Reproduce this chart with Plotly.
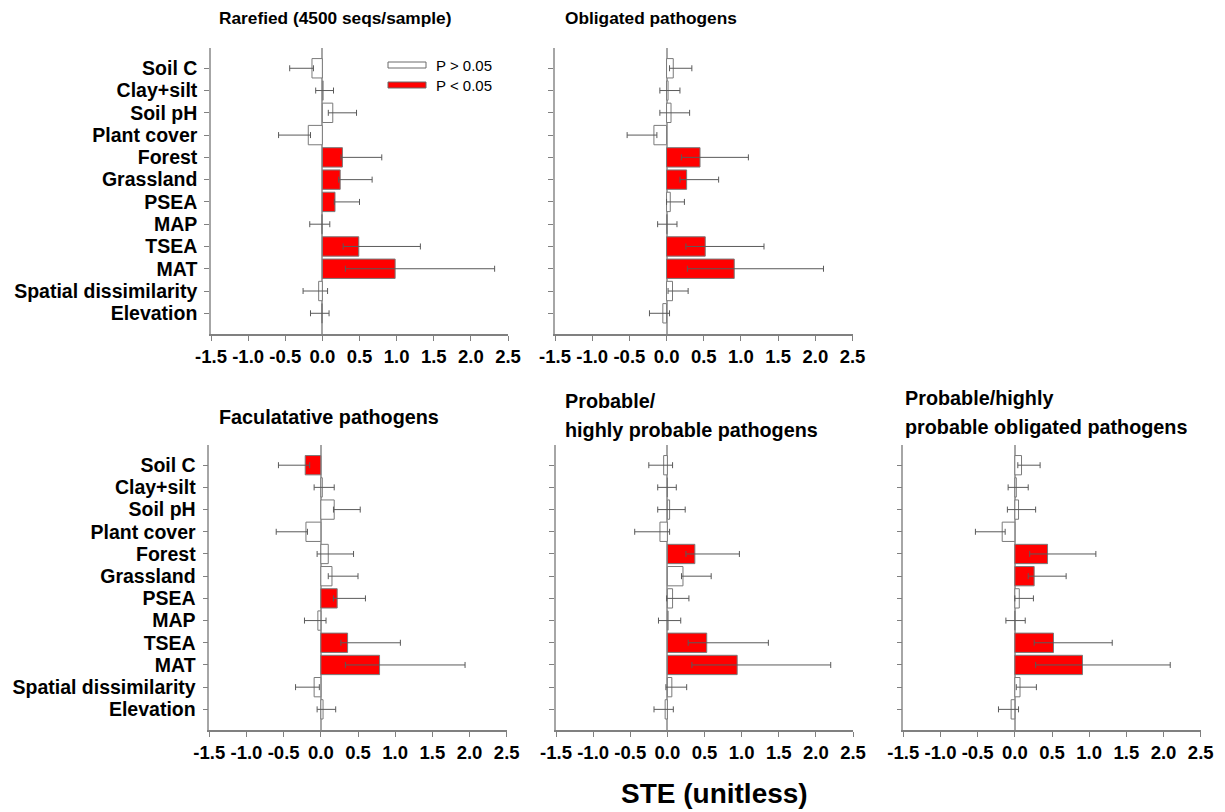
import plotly.graph_objects as go

# Predictors, top to bottom
predictors = ["Soil C", "Clay+silt", "Soil pH", "Plant cover", "Forest", "Grassland",
              "PSEA", "MAP", "TSEA", "MAT", "Spatial dissimilarity", "Elevation"]

tick_vals = [-1.5, -1.0, -0.5, 0.0, 0.5, 1.0, 1.5, 2.0, 2.5]
tick_text = ["-1.5", "-1.0", "-0.5", "0.0", "0.5", "1.0", "1.5", "2.0", "2.5"]

# Standardized total effects (STE) with lower / upper interval bounds and significance
rarefied_ste = [-0.14, 0.01, 0.14, -0.19, 0.27, 0.24, 0.17, -0.01, 0.49, 0.98, -0.05, -0.01]
rarefied_lo = [-0.44, -0.09, 0.08, -0.59, 0.25, 0.22, 0.16, -0.17, 0.28, 0.31, -0.26, -0.16]
rarefied_hi = [-0.12, 0.15, 0.46, -0.16, 0.80, 0.67, 0.50, 0.10, 1.32, 2.32, 0.07, 0.09]
rarefied_sig = [0, 0, 0, 0, 1, 1, 1, 0, 1, 1, 0, 0]

obligated_ste = [0.09, 0.02, 0.06, -0.17, 0.45, 0.27, 0.05, 0.01, 0.52, 0.91, 0.08, -0.05]
obligated_lo = [0.04, -0.09, -0.09, -0.53, 0.20, 0.18, 0.00, -0.12, 0.26, 0.28, 0.02, -0.23]
obligated_hi = [0.34, 0.18, 0.31, -0.13, 1.10, 0.70, 0.24, 0.14, 1.31, 2.11, 0.29, 0.04]
obligated_sig = [0, 0, 0, 0, 1, 1, 0, 0, 1, 1, 0, 0]

facultative_ste = [-0.21, 0.02, 0.18, -0.20, 0.10, 0.15, 0.22, -0.04, 0.36, 0.79, -0.09, 0.03]
facultative_lo = [-0.57, -0.09, 0.17, -0.60, -0.05, 0.10, 0.17, -0.22, 0.27, 0.33, -0.34, -0.05]
facultative_hi = [-0.15, 0.18, 0.53, -0.18, 0.44, 0.50, 0.60, 0.07, 1.07, 1.94, -0.02, 0.20]
facultative_sig = [1, 0, 0, 0, 0, 0, 1, 0, 1, 1, 0, 0]

probable_ste = [-0.05, 0.00, 0.03, -0.10, 0.37, 0.21, 0.07, 0.01, 0.53, 0.94, 0.06, -0.03]
probable_lo = [-0.25, -0.13, -0.13, -0.44, 0.25, 0.19, -0.01, -0.12, 0.28, 0.33, -0.02, -0.18]
probable_hi = [0.07, 0.12, 0.24, 0.03, 0.97, 0.59, 0.29, 0.18, 1.36, 2.20, 0.26, 0.08]
probable_sig = [0, 0, 0, 0, 1, 0, 0, 0, 1, 1, 0, 0]

prob_obl_ste = [0.09, 0.02, 0.05, -0.17, 0.44, 0.26, 0.06, 0.00, 0.52, 0.91, 0.07, -0.05]
prob_obl_lo = [0.04, -0.09, -0.10, -0.53, 0.20, 0.18, 0.00, -0.12, 0.26, 0.28, 0.02, -0.22]
prob_obl_hi = [0.34, 0.18, 0.28, -0.13, 1.09, 0.69, 0.25, 0.14, 1.31, 2.09, 0.29, 0.05]
prob_obl_sig = [0, 0, 0, 0, 1, 1, 0, 0, 1, 1, 0, 0]

panels = [
    dict(ste=rarefied_ste, lo=rarefied_lo, hi=rarefied_hi, sig=rarefied_sig,
         x=[211, 508], y=[48, 334], labels=True),
    dict(ste=obligated_ste, lo=obligated_lo, hi=obligated_hi, sig=obligated_sig,
         x=[555, 852.5], y=[48, 334], labels=False),
    dict(ste=facultative_ste, lo=facultative_lo, hi=facultative_hi, sig=facultative_sig,
         x=[209.3, 506.7], y=[445, 730], labels=True),
    dict(ste=probable_ste, lo=probable_lo, hi=probable_hi, sig=probable_sig,
         x=[556, 853], y=[445, 730], labels=False),
    dict(ste=prob_obl_ste, lo=prob_obl_lo, hi=prob_obl_hi, sig=prob_obl_sig,
         x=[903.3, 1200.7], y=[445, 730], labels=False),
]

W, H = 1225, 812
FONT = "Arial, Liberation Sans, sans-serif"
RED = "#ff0000"
EDGE = "#7a7a7a"

fig = go.Figure()
layout = {}

for i, p in enumerate(panels, start=1):
    sfx = "" if i == 1 else str(i)
    colors = [RED if s else "white" for s in p["sig"]]
    plus = [max(h - v, 0) for v, h in zip(p["ste"], p["hi"])]
    minus = [max(v - l, 0) for v, l in zip(p["ste"], p["lo"])]
    fig.add_trace(go.Bar(
        x=p["ste"], y=predictors, orientation="h",
        xaxis="x" + sfx, yaxis="y" + sfx,
        width=0.87,
        marker=dict(color=colors, line=dict(color=EDGE, width=1)),
        error_x=dict(type="data", symmetric=False, array=plus, arrayminus=minus,
                     color="#5a5a5a", thickness=1, width=3),
        showlegend=False,
    ))
    layout["xaxis" + sfx] = dict(
        domain=[p["x"][0] / W, p["x"][1] / W],
        anchor="y" + sfx,
        automargin=False,
        range=[-1.5, 2.5],
        tickmode="array", tickvals=tick_vals, ticktext=tick_text,
        ticks="outside", ticklen=5, tickcolor="#808080",
        showline=True, linecolor="#808080", linewidth=1.5,
        showgrid=False,
        zeroline=True, zerolinecolor="#a6a6a6", zerolinewidth=1.5,
        tickfont=dict(family=FONT, size=18.5, color="black", weight="bold"),
    )
    layout["yaxis" + sfx] = dict(
        domain=[1 - p["y"][1] / H, 1 - p["y"][0] / H],
        anchor="x" + sfx,
        automargin=False,
        type="category",
        categoryorder="array", categoryarray=predictors,
        tickmode="array", tickvals=predictors, ticktext=predictors,
        range=[11.93, -0.91],
        ticks="outside", ticklen=5, tickcolor="#808080",
        showline=True, linecolor="#a6a6a6", linewidth=1.5,
        showgrid=False,
        showticklabels=p["labels"],
        ticklabelstandoff=3,
        tickfont=dict(family=FONT, size=19.5, color="black", weight="bold"),
    )

annotations = []
# (text, left x, centre y, font size)
titles = [
    ("Rarefied (4500 seqs/sample)", 217, 18, 17.3),
    ("Obligated pathogens", 563, 18, 17.3),
    ("Faculatative pathogens", 217, 417, 19.8),
    ("Probable/", 563, 401, 19.8),
    ("highly probable pathogens", 563, 430, 19.8),
    ("Probable/highly", 903, 398, 19.8),
    ("probable obligated pathogens", 903, 427, 19.8),
]
for text, x, y, size in titles:
    annotations.append(dict(
        text=text, x=x / W, y=1 - y / H, xref="paper", yref="paper",
        xanchor="left", yanchor="middle", align="left", showarrow=False,
        font=dict(family=FONT, size=size, color="black", weight="bold"),
    ))

annotations.append(dict(
    text="STE (unitless)", x=714 / W, y=1 - 793 / H, xref="paper", yref="paper",
    xanchor="center", yanchor="middle", showarrow=False,
    font=dict(family=FONT, size=28, color="black", weight="bold"),
))

# Legend swatches
shapes = []
legend_items = [("P > 0.05", "white", 65), ("P < 0.05", RED, 85)]
for label, fill, yc in legend_items:
    shapes.append(dict(
        type="rect", xref="paper", yref="paper",
        x0=388 / W, x1=426 / W, y0=1 - (yc + 3) / H, y1=1 - (yc - 3) / H,
        fillcolor=fill, line=dict(color="#6a6a6a", width=1),
    ))
    annotations.append(dict(
        text=label, x=434 / W, y=1 - yc / H, xref="paper", yref="paper",
        xanchor="left", yanchor="middle", showarrow=False,
        font=dict(family=FONT, size=15, color="black"),
    ))

fig.update_layout(
    **layout,
    width=W, height=H,
    margin=dict(l=0, r=0, t=0, b=0),
    paper_bgcolor="white", plot_bgcolor="white",
    annotations=annotations, shapes=shapes,
    bargap=0.13,
)

fig.write_html("out.html")
